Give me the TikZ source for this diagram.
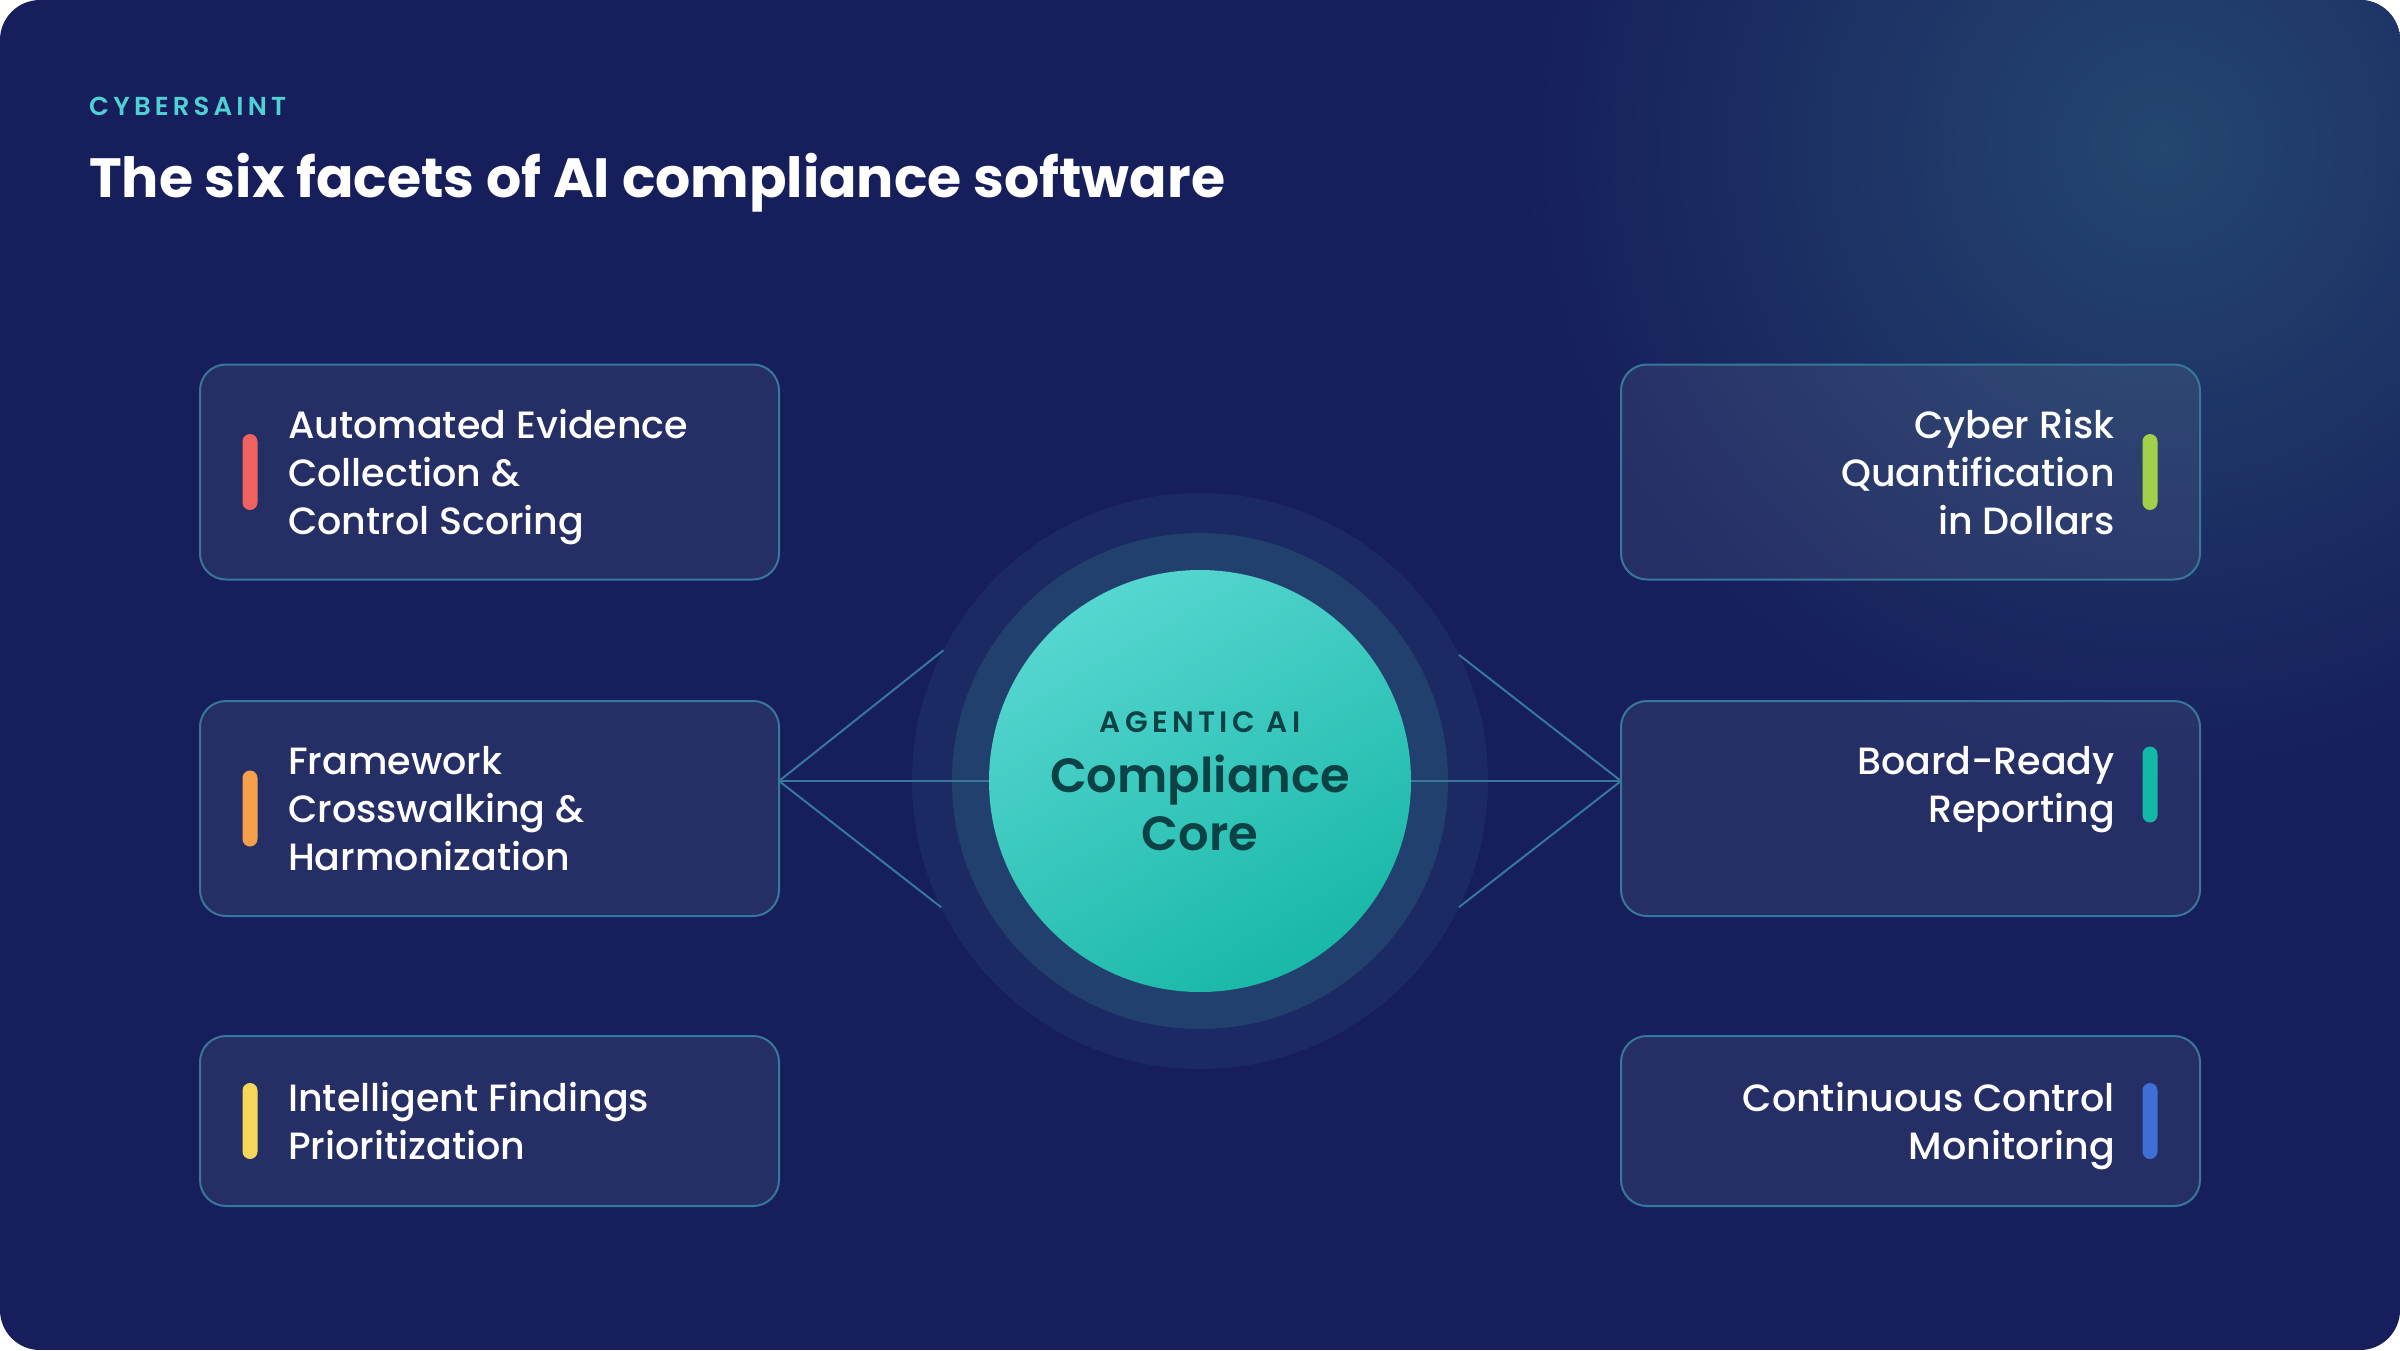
\documentclass[tikz,border=0pt]{standalone}
\usepackage{fontspec}
\setmainfont{Poppins}
\newfontfamily\popmed{Poppins Medium}
\newfontfamily\popsemi{Poppins SemiBold}
\newfontfamily\popbold{Poppins Bold}
\usetikzlibrary{calc}

\definecolor{navy}{HTML}{161F5B}
\definecolor{glow}{HTML}{24466F}
\definecolor{brandteal}{HTML}{4FD0D2}
\definecolor{edgeteal}{HTML}{37789A}
\definecolor{haloblue}{HTML}{1C2A64}
\definecolor{ringblue}{HTML}{22406E}
\definecolor{corelight}{HTML}{56D6D0}
\definecolor{coredark}{HTML}{19B8A8}
\definecolor{coretext}{HTML}{0C4246}
\definecolor{barred}{HTML}{F0625F}
\definecolor{barorange}{HTML}{F5A04A}
\definecolor{baryellow}{HTML}{F7D75A}
\definecolor{bargreen}{HTML}{A3D04A}
\definecolor{barteal}{HTML}{14B8A6}
\definecolor{barblue}{HTML}{3D6FD6}

\begin{document}
\begin{tikzpicture}[x=1pt, y=-1pt,
  facet/.style={draw=edgeteal, line width=2pt, fill=white, fill opacity=0.07, draw opacity=1,
    rounded corners=26pt, minimum width=579pt, minimum height=215pt, inner sep=0pt, outer sep=0pt},
  facettext/.style={text=white, inner sep=0pt, text depth=9pt, yshift=-4pt, font=\popmed\fontsize{38}{48}\selectfont},
  bar/.style={rounded corners=7.5pt, minimum width=15pt, minimum height=76pt, inner sep=0pt},
  link/.style={draw=edgeteal, line width=2pt}]
\useasboundingbox (0,0) rectangle (2400,1350);
\fill [white] (0,0) rectangle (2400,1350);
\begin{scope}
\clip [rounded corners=40pt] (0,0) rectangle (2400,1350);
\fill [navy] (0,0) rectangle (2400,1350);
\shade [inner color=glow, outer color=navy] (2160,145) circle (640);
\end{scope}

\node [anchor=base west, text=brandteal, inner sep=0pt,
  font=\popsemi\fontsize{26}{30}\selectfont\addfontfeature{LetterSpace=16}] (brand) at (89,115) {CYBERSAINT};
\node [anchor=base west, text=white, inner sep=0pt,
  font=\popbold\fontsize{55.3}{64}\selectfont] (title) at (89,197) {The six facets of AI compliance software};

\node [circle, fill=haloblue, minimum size=576pt, inner sep=0pt, outer sep=0pt] (halo) at (1200,781) {};
\node [circle, fill=ringblue, minimum size=496pt, inner sep=0pt, outer sep=0pt] (ring) at (halo) {};

\node [facet] (evidence) at (489.5,472) {};
\node [facet] (crosswalk) at (489.5,808.5) {};
\node [facet, minimum height=170pt] (findings) at (489.5,1121) {};
\node [facet] (risk) at (1910.5,472) {};
\node [facet] (board) at (1910.5,808.5) {};
\node [facet, minimum height=170pt] (monitor) at (1910.5,1121) {};

\coordinate (lj) at (crosswalk.east |- halo.center);
\coordinate (rj) at (board.west |- halo.center);
\draw [link] (lj) -- (halo.153.4);
\draw [link] (lj) -- (halo.206.6);
\draw [link] (lj) -- (halo.center);
\draw [link] (rj) -- (halo.26.6);
\draw [link] (rj) -- (halo.-26.6);
\draw [link] (rj) -- (halo.center);

\node [circle, minimum size=422pt, inner sep=0pt, outer sep=0pt, top color=corelight, bottom color=coredark,
  shading angle=30] (core) at (halo) {};
\node [text=coretext, inner sep=0pt,
  font=\popsemi\fontsize{29.5}{34}\selectfont\addfontfeature{LetterSpace=15}] (kicker) at (1200,722) {AGENTIC AI};
\node [text=coretext, inner sep=0pt, align=center,
  font=\popsemi\fontsize{48}{58}\selectfont] (coretitle) at (1200,803) {Compliance\\Core};

\node [bar, fill=barred] (evidence-bar) at ([xshift=50pt]evidence.west) {};
\node [bar, fill=barorange] (crosswalk-bar) at ([xshift=50pt]crosswalk.west) {};
\node [bar, fill=baryellow] (findings-bar) at ([xshift=50pt]findings.west) {};
\node [bar, fill=bargreen] (risk-bar) at ([xshift=-50pt]risk.east) {};
\node [bar, fill=barteal] (board-bar) at ([xshift=-50pt,yshift=24pt]board.east) {};
\node [bar, fill=barblue] (monitor-bar) at ([xshift=-50pt]monitor.east) {};

\node [facettext, anchor=west, align=left] (evidence-text) at ([xshift=88pt]evidence.west)
  {Automated Evidence\\Collection \&\\Control Scoring};
\node [facettext, anchor=west, align=left] (crosswalk-text) at ([xshift=88pt]crosswalk.west)
  {Framework\\Crosswalking \&\\Harmonization};
\node [facettext, anchor=west, align=left] (findings-text) at ([xshift=88pt]findings.west)
  {Intelligent Findings\\Prioritization};
\node [facettext, anchor=east, align=right] (risk-text) at ([xshift=-85pt]risk.east)
  {Cyber Risk\\Quantification\\in Dollars};
\node [facettext, anchor=east, align=right] (board-text) at ([xshift=-85pt,yshift=24pt]board.east)
  {Board-Ready\\Reporting};
\node [facettext, anchor=east, align=right] (monitor-text) at ([xshift=-85pt]monitor.east)
  {Continuous Control\\Monitoring};
\end{tikzpicture}
\end{document}
